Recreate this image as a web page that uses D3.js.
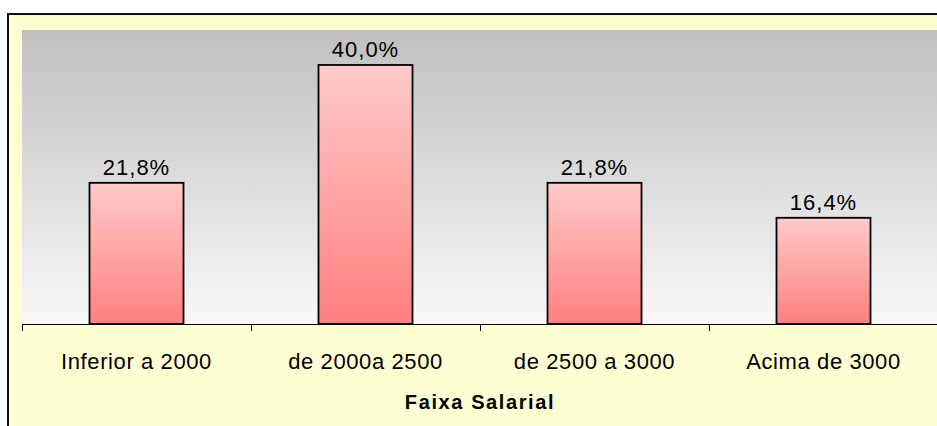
<!DOCTYPE html>
<html>
<head>
<meta charset="utf-8">
<script src="https://cdn.jsdelivr.net/npm/d3@7"></script>
<style>
  body { margin: 0; background: #fff; }
  text { font-family: 'Liberation Sans', Arial, sans-serif; }
</style>
</head>
<body>
<div id="chart"></div>
<script>
const categories = ['Inferior a 2000', 'de 2000a 2500', 'de 2500 a 3000', 'Acima de 3000'];
const percents = [21.8, 40.0, 21.8, 16.4];
const axisTitle = 'Faixa Salarial';

const width = 937;
const height = 426;
const plot = { left: 22, top: 30, right: 938, bottom: 324 };

const svg = d3
  .select('#chart')
  .append('svg')
  .attr('width', width)
  .attr('height', height);

const defs = svg.append('defs');

let bgGrad = defs
  .append('linearGradient')
  .attr('id', 'bg-grad')
  .attr('x1', 0).attr('y1', 0).attr('x2', 0).attr('y2', 1);
bgGrad.append('stop').attr('offset', '0%').attr('stop-color', '#c0c0c0');
bgGrad.append('stop').attr('offset', '100%').attr('stop-color', '#f8f8f8');

let barGrad = defs
  .append('linearGradient')
  .attr('id', 'bar-grad')
  .attr('x1', 0).attr('y1', 0).attr('x2', 0).attr('y2', 1);
barGrad.append('stop').attr('offset', '0%').attr('stop-color', '#ffcaca');
barGrad.append('stop').attr('offset', '100%').attr('stop-color', '#ff7f7f');

// outer frame
svg
  .append('rect')
  .attr('x', 8)
  .attr('y', 14)
  .attr('width', width + 10)
  .attr('height', height + 10)
  .attr('fill', '#ffffd4')
  .attr('stroke', '#111')
  .attr('stroke-width', 2);

// plot area
svg
  .append('rect')
  .attr('x', plot.left)
  .attr('y', plot.top)
  .attr('width', plot.right - plot.left)
  .attr('height', plot.bottom - plot.top)
  .attr('fill', 'url(#bg-grad)');

// Scales
let xScale = d3
  .scaleBand()
  .domain(categories)
  .range([plot.left, plot.right])
  .paddingInner(0)
  .paddingOuter(0);

let yScale = d3.scaleLinear().domain([0, 45.4]).range([plot.bottom, plot.top]);

let barWidth = 94;

// bars
svg
  .selectAll('.bar')
  .data(percents)
  .enter()
  .append('rect')
  .attr('class', 'bar')
  .attr('x', (d, i) => xScale(categories[i]) + (xScale.bandwidth() - barWidth) / 2)
  .attr('y', (d) => yScale(d))
  .attr('width', barWidth)
  .attr('height', (d) => yScale(0) - yScale(d))
  .attr('fill', 'url(#bar-grad)')
  .attr('stroke', '#000')
  .attr('stroke-width', 1.8);

// value labels
svg
  .selectAll('.value-label')
  .data(percents)
  .enter()
  .append('text')
  .attr('class', 'value-label')
  .attr('x', (d, i) => xScale(categories[i]) + xScale.bandwidth() / 2)
  .attr('y', (d) => yScale(d) - 8)
  .attr('text-anchor', 'middle')
  .attr('font-size', '22px')
  .attr('letter-spacing', '1px')
  .attr('fill', '#000')
  .text((d) => d.toFixed(1).replace('.', ',') + '%');

// x axis
let xAxis = svg
  .append('g')
  .attr('transform', `translate(0, ${plot.bottom})`)
  .call(d3.axisBottom(xScale).tickSize(0).tickPadding(0).tickFormat(''));

xAxis.select('.domain').attr('d', `M${plot.left},0.5H${plot.right}`).attr('stroke', '#000');

// tick marks on band edges
svg
  .selectAll('.band-tick')
  .data(categories)
  .enter()
  .append('line')
  .attr('class', 'band-tick')
  .attr('x1', (d) => xScale(d) + 0.5)
  .attr('x2', (d) => xScale(d) + 0.5)
  .attr('y1', plot.bottom)
  .attr('y2', plot.bottom + 7)
  .attr('stroke', '#000');

// category labels
svg
  .selectAll('.cat-label')
  .data(categories)
  .enter()
  .append('text')
  .attr('class', 'cat-label')
  .attr('x', (d) => xScale(d) + xScale.bandwidth() / 2)
  .attr('y', 369)
  .attr('text-anchor', 'middle')
  .attr('font-size', '22px')
  .attr('letter-spacing', '0.6px')
  .attr('fill', '#000')
  .text((d) => d);

// axis title
svg
  .append('text')
  .attr('x', (plot.left + plot.right) / 2)
  .attr('y', 409)
  .attr('text-anchor', 'middle')
  .attr('font-size', '20px')
  .attr('font-weight', 'bold')
  .attr('letter-spacing', '1.6px')
  .attr('fill', '#000')
  .text(axisTitle);
</script>
</body>
</html>
